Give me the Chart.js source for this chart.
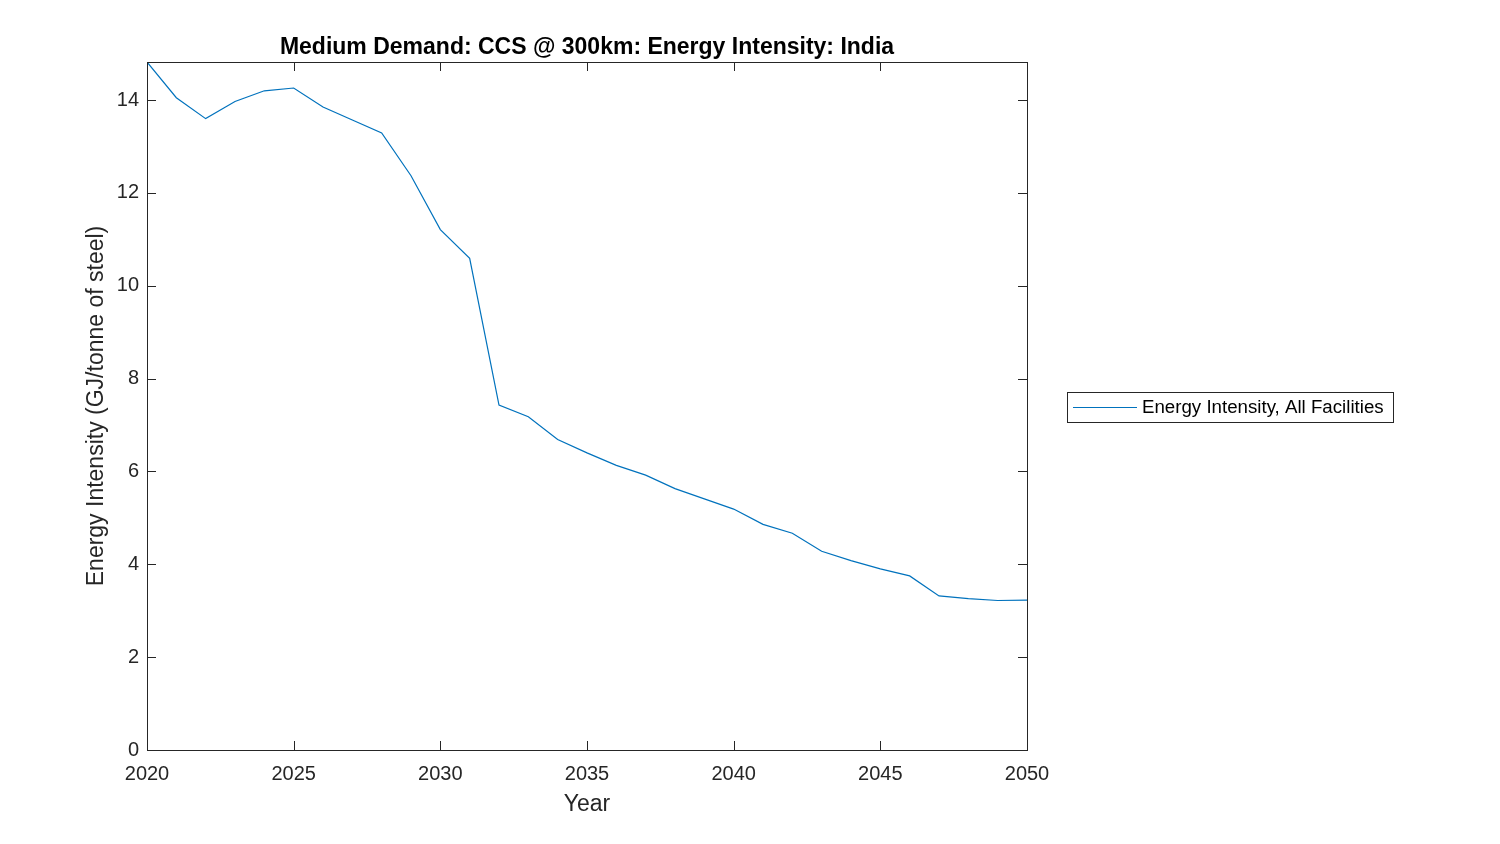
<!DOCTYPE html>
<html>
<head>
<meta charset="utf-8">
<script src="https://cdn.jsdelivr.net/npm/chart.js@4.4.1/dist/chart.umd.min.js"></script>
<style>
  html, body { margin: 0; padding: 0; background: #fff; }
  #wrap { width: 1500px; height: 844px; }
</style>
</head>
<body>
<div id="wrap"><canvas id="EnergyIntensity"></canvas></div>
<script>
var years = [2020, 2021, 2022, 2023, 2024, 2025, 2026, 2027, 2028, 2029,
             2030, 2031, 2032, 2033, 2034, 2035, 2036, 2037, 2038, 2039,
             2040, 2041, 2042, 2043, 2044, 2045, 2046, 2047, 2048, 2049, 2050];
var intensity = [14.82, 14.05, 13.60, 13.97, 14.20, 14.26, 13.85, 13.57, 13.29, 12.37,
                 11.21, 10.59, 7.43, 7.18, 6.69, 6.40, 6.13, 5.92, 5.63, 5.41,
                 5.19, 4.86, 4.67, 4.28, 4.08, 3.90, 3.75, 3.32, 3.26, 3.22, 3.23];
var xTicks = [2020, 2025, 2030, 2035, 2040, 2045, 2050];
var yTicks = [0, 2, 4, 6, 8, 10, 12, 14];
var seriesName = "Energy Intensity, All Facilities";
var chartTitle = "Medium Demand: CCS @ 300km: Energy Intensity: India";
var xTitle = "Year";
var yTitle = "Energy Intensity (GJ/tonne of steel)";

var lineColor = "#0072BD";
var axisColor = "#262626";
var fontName = "'Liberation Sans', Arial, Helvetica, sans-serif";

var points = years.map(function (y, i) { return { x: y, y: intensity[i] }; });

// box, inward ticks on all four sides, titles and legend (MATLAB look)
var matlabAxes = {
    id: "matlabAxes",
    afterDraw: function (chart) {
        var ctx = chart.ctx;
        var a = chart.chartArea;
        var xs = chart.scales.x, ys = chart.scales.y;
        ctx.save();
        ctx.strokeStyle = axisColor;
        ctx.lineWidth = 1;
        ctx.strokeRect(a.left + 0.5, a.top + 0.5, a.right - a.left, a.bottom - a.top);
        ctx.beginPath();
        xTicks.forEach(function (t) {
            var px = Math.round(xs.getPixelForValue(t)) + 0.5;
            ctx.moveTo(px, a.bottom); ctx.lineTo(px, a.bottom - 9);
            ctx.moveTo(px, a.top); ctx.lineTo(px, a.top + 9);
        });
        yTicks.forEach(function (t) {
            var py = Math.round(ys.getPixelForValue(t)) + 0.5;
            ctx.moveTo(a.left, py); ctx.lineTo(a.left + 9, py);
            ctx.moveTo(a.right, py); ctx.lineTo(a.right - 9, py);
        });
        ctx.stroke();

        ctx.fillStyle = "#000";
        ctx.textAlign = "center";
        ctx.textBaseline = "alphabetic";
        ctx.font = "bold 23px " + fontName;
        ctx.fillText(chartTitle, (a.left + a.right) / 2, 54);

        ctx.fillStyle = axisColor;
        ctx.font = "23px " + fontName;
        ctx.fillText(xTitle, (a.left + a.right) / 2, 811);
        ctx.save();
        ctx.translate(103, (a.top + a.bottom) / 2);
        ctx.rotate(-Math.PI / 2);
        ctx.fillText(yTitle, 0, 0);
        ctx.restore();

        // legend
        ctx.fillStyle = "#fff";
        ctx.fillRect(1067, 392, 326, 30);
        ctx.strokeStyle = axisColor;
        ctx.strokeRect(1067.5, 392.5, 326, 30);
        ctx.strokeStyle = lineColor;
        ctx.lineWidth = 1.2;
        ctx.beginPath();
        ctx.moveTo(1073, 407.5); ctx.lineTo(1137, 407.5);
        ctx.stroke();
        ctx.fillStyle = "#000";
        ctx.textAlign = "left";
        ctx.textBaseline = "middle";
        ctx.font = "18.7px " + fontName;
        ctx.fillText(seriesName, 1142, 408);
        ctx.restore();
    }
};

new Chart(document.getElementById("EnergyIntensity"), {
    type: "line",
    data: {
        datasets: [
            {
                label: seriesName,
                data: points,
                borderColor: lineColor,
                borderWidth: 1.2,
                pointRadius: 0,
                fill: false,
                tension: 0
            }
        ]
    },
    options: {
        responsive: true,
        maintainAspectRatio: false,
        animation: false,
        layout: { padding: { top: 62, right: 473, left: 0, bottom: 0 } },
        plugins: {
            legend: { display: false },
            title: { display: false },
            tooltip: { enabled: false }
        },
        scales: {
            x: {
                type: "linear",
                min: 2020,
                max: 2050,
                grid: { display: false, drawTicks: false },
                border: { display: false },
                afterBuildTicks: function (scale) {
                    scale.ticks = xTicks.map(function (v) { return { value: v }; });
                },
                afterFit: function (scale) { scale.height = 94; },
                ticks: {
                    padding: 12,
                    color: axisColor,
                    font: { family: fontName, size: 20 },
                    maxRotation: 0,
                    callback: function (v) { return String(v); }
                }
            },
            y: {
                min: 0,
                max: 14.82,
                grid: { display: false, drawTicks: false },
                border: { display: false },
                afterBuildTicks: function (scale) {
                    scale.ticks = yTicks.map(function (v) { return { value: v }; });
                },
                afterFit: function (scale) { scale.width = 147; },
                ticks: {
                    padding: 8,
                    color: axisColor,
                    font: { family: fontName, size: 20 },
                    callback: function (v) { return String(v); }
                }
            }
        }
    },
    plugins: [matlabAxes]
});
</script>
</body>
</html>
